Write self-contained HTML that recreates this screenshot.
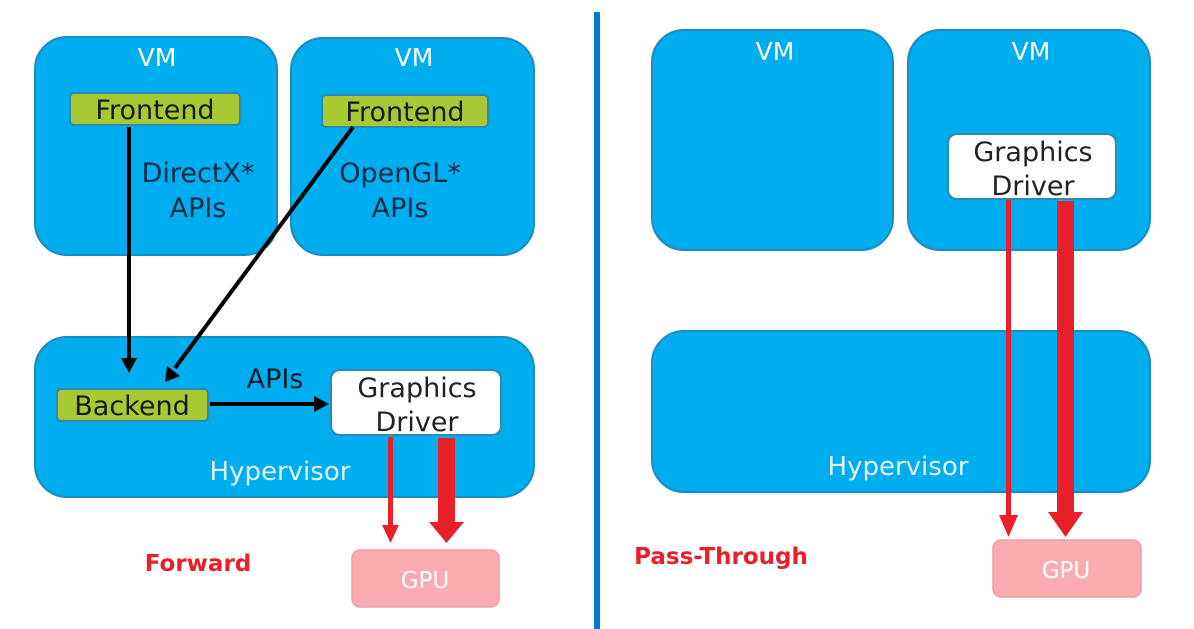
<!DOCTYPE html>
<html><head><meta charset="utf-8"><style>
html,body{margin:0;padding:0;background:#fff;}
svg{display:block;font-family:"DejaVu Sans","Liberation Sans",sans-serif;}
</style></head><body>
<svg width="1194" height="629" viewBox="0 0 1194 629" xmlns="http://www.w3.org/2000/svg">
<rect width="1194" height="629" fill="#fff"/>
<rect x="594" y="12" width="6" height="617" fill="#0a78d0"/>

<!-- LEFT -->
<g fill="#00adef" stroke="#1a8cc0" stroke-width="2">
<rect x="35" y="37" width="242" height="218" rx="32"/>
<rect x="291" y="38" width="243" height="217" rx="32"/>
<rect x="35" y="337" width="499" height="160" rx="32"/>
</g>
<g fill="#fff" font-size="25" text-anchor="middle">
<text x="157" y="66">VM</text>
<text x="414" y="66">VM</text>
<text x="280" y="480" fill="#e0f4ff" font-size="26">Hypervisor</text>
</g>
<g fill="#a6c934" stroke="#2a8ab0" stroke-width="2">
<rect x="70" y="93" width="170" height="32" rx="4"/>
<rect x="322" y="95" width="166" height="32" rx="4"/>
<rect x="57" y="389" width="151" height="32" rx="4"/>
</g>
<g font-size="27" fill="#1a1a1a" text-anchor="middle">
<text x="155" y="119">Frontend</text>
<text x="405" y="121">Frontend</text>
<text x="132" y="415">Backend</text>
</g>
<g font-size="27" fill="#0b2a44" text-anchor="middle">
<text x="198" y="182">DirectX*</text>
<text x="198" y="217">APIs</text>
<text x="400" y="182">OpenGL*</text>
<text x="400" y="217">APIs</text>
<text x="275" y="388" fill="#0b1a2a">APIs</text>
</g>
<rect x="331" y="370" width="170" height="65" rx="9" fill="#fff" stroke="#2a8ab0" stroke-width="2"/>
<g font-size="27" fill="#222" text-anchor="middle">
<text x="417" y="397">Graphics</text>
<text x="417" y="431">Driver</text>
</g>
<g stroke="#000" stroke-width="4" fill="none">
<line x1="129" y1="127" x2="129" y2="360"/>
<line x1="353" y1="127" x2="175" y2="368"/>
<line x1="210" y1="404" x2="316" y2="404"/>
</g>
<g fill="#000">
<polygon points="121,358 137,358 129,373"/>
<polygon points="180,376 167,366 165,382"/>
<polygon points="314,396 314,412 329,404"/>
</g>
<g fill="#e8202a">
<rect x="388" y="437" width="5" height="90"/>
<polygon points="382,525 399,525 390.5,543"/>
<rect x="438" y="438" width="17" height="86"/>
<polygon points="429,522 464,522 446.5,543"/>
</g>
<rect x="352" y="550" width="147" height="57" rx="8" fill="#fcacb0" stroke="#e8a0a4" stroke-width="1.5"/>
<text x="425" y="588" font-size="23" fill="#fff" text-anchor="middle">GPU</text>
<text x="198" y="571" font-size="23" font-weight="bold" fill="#e8202a" text-anchor="middle">Forward</text>

<!-- RIGHT -->
<g fill="#00adef" stroke="#1a8cc0" stroke-width="2">
<rect x="652" y="30" width="241" height="220" rx="32"/>
<rect x="908" y="30" width="242" height="220" rx="32"/>
<rect x="652" y="331" width="498" height="161" rx="32"/>
</g>
<g fill="#fff" font-size="25" text-anchor="middle">
<text x="775" y="60">VM</text>
<text x="1031" y="60">VM</text>
<text x="898" y="475" fill="#e0f4ff" font-size="26">Hypervisor</text>
</g>
<rect x="948" y="134" width="168" height="65" rx="9" fill="#fff" stroke="#2a8ab0" stroke-width="2"/>
<g font-size="27" fill="#222" text-anchor="middle">
<text x="1033" y="161">Graphics</text>
<text x="1033" y="195">Driver</text>
</g>
<g fill="#e8202a">
<rect x="1006" y="200" width="5" height="317"/>
<polygon points="999,515 1018,515 1008.5,537"/>
<rect x="1057" y="201" width="17" height="314"/>
<polygon points="1048,512 1083,512 1065.5,537"/>
</g>
<rect x="993" y="540" width="148" height="57" rx="8" fill="#fcacb0" stroke="#e8a0a4" stroke-width="1.5"/>
<text x="1066" y="578" font-size="23" fill="#fff" text-anchor="middle">GPU</text>
<text x="721" y="564" font-size="23" font-weight="bold" fill="#e8202a" text-anchor="middle">Pass-Through</text>
</svg>
</body></html>
